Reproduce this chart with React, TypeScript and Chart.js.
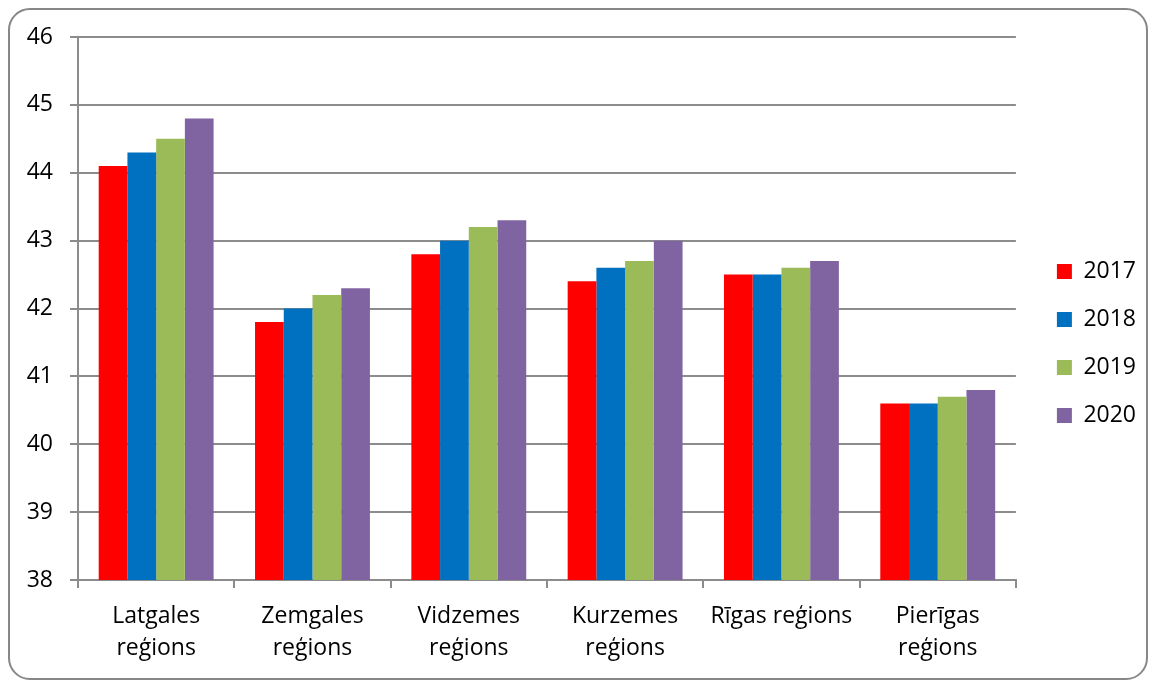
import React, { useEffect, useRef } from "react";
import { Chart, registerables } from "chart.js";

Chart.register(...registerables);

const categories: (string | string[])[] = [
  ["Latgales", "reģions"],
  ["Zemgales", "reģions"],
  ["Vidzemes", "reģions"],
  ["Kurzemes", "reģions"],
  "Rīgas reģions",
  ["Pierīgas", "reģions"],
];
const seriesNames = ["2017", "2018", "2019", "2020"];
const values2017 = [44.1, 41.8, 42.8, 42.4, 42.5, 40.6];
const values2018 = [44.3, 42.0, 43.0, 42.6, 42.5, 40.6];
const values2019 = [44.5, 42.2, 43.2, 42.7, 42.6, 40.7];
const values2020 = [44.8, 42.3, 43.3, 43.0, 42.7, 40.8];
const seriesColors = ["#FF0000", "#0070C0", "#9BBB59", "#8064A2"];
const yMin = 38;
const yMax = 46;

const FONT = "'Open Sans', sans-serif";
const GRID = "#8c8c8c";

export default function App() {
  const ref = useRef<HTMLCanvasElement | null>(null);

  useEffect(() => {
    if (!ref.current) return;
    const allValues = [values2017, values2018, values2019, values2020];
    const chart = new Chart(ref.current, {
      type: "bar",
      data: {
        labels: categories,
        datasets: seriesNames.map((name, i) => ({
          label: name,
          data: allValues[i],
          backgroundColor: seriesColors[i],
          borderWidth: 0,
          categoryPercentage: 0.735,
          barPercentage: 1,
        })),
      },
      options: {
        responsive: false,
        animation: false,
        layout: { padding: { top: 27, bottom: 0, left: 0, right: 0 } },
        plugins: {
          tooltip: { enabled: false },
          legend: {
            position: "right",
            align: "start",
            title: {
              display: true,
              text: "",
              font: { size: 10, lineHeight: 1 },
              padding: { top: 0, bottom: 188 },
            },
            labels: {
              boxWidth: 15,
              boxHeight: 15,
              padding: 25,
              color: "#000",
              font: { family: FONT, size: 23 },
            },
          },
        },
        scales: {
          x: {
            grid: {
              drawOnChartArea: false,
              drawTicks: true,
              tickLength: 8,
              color: GRID,
              lineWidth: 2,
            },
            border: { color: GRID, width: 2 },
            ticks: {
              color: "#000",
              padding: 12,
              maxRotation: 0,
              autoSkip: false,
              font: { family: FONT, size: 23, lineHeight: 1.39 },
            },
            afterFit: (s: any) => {
              s.height = 98;
            },
          },
          y: {
            min: yMin,
            max: yMax,
            grid: { color: GRID, lineWidth: 2, tickLength: 8 },
            border: { color: GRID, width: 2 },
            ticks: {
              stepSize: 1,
              color: "#000",
              padding: 17,
              font: { family: FONT, size: 23 },
            },
            afterFit: (s: any) => {
              s.width = 68;
              s.paddingTop = 0;
              s.paddingBottom = 0;
            },
          },
          yR: {
            type: "linear",
            position: "right",
            display: true,
            grid: { display: false },
            border: { display: false },
            ticks: { display: false },
            afterFit: (s: any) => {
              s.width = 16;
            },
          },
        },
      },
    } as any);
    return () => chart.destroy();
  }, []);

  return (
    <div
      style={{
        width: 1140,
        height: 672,
        boxSizing: "border-box",
        border: "2px solid #878787",
        borderRadius: 22,
        overflow: "hidden",
      }}
    >
      <canvas ref={ref} width={1136} height={668} style={{ display: "block" }} />
    </div>
  );
}
